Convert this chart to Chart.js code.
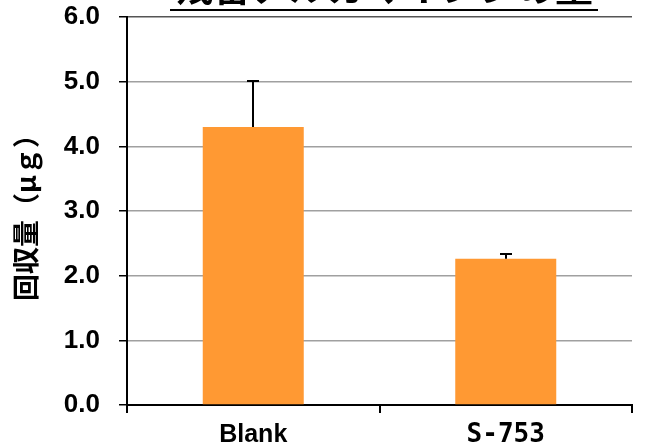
<!DOCTYPE html>
<html>
<head>
<meta charset="utf-8">
<script src="https://cdn.jsdelivr.net/npm/chart.js@4"></script>
<style>
  html, body { margin: 0; padding: 0; background: #fff; }
</style>
</head>
<body>
<canvas id="chart" width="660" height="446"></canvas>
<script>
const categories = ["Blank", "S-753"];
const values = [4.30, 2.26];
const errors = [0.71, 0.07];
const yTicks = [0, 1, 2, 3, 4, 5, 6];
const chartTitle = "残留アルカマイシンの量";
const yTitle = "回収量（μｇ）";

// title is cut off at the top of the picture, only its lower edge shows
const clippedTitle = {
  id: "clippedTitle",
  afterDraw(chart) {
    const ctx = chart.ctx;
    ctx.save();
    ctx.font = "bold 38px 'Noto Sans CJK JP'";
    ctx.fillStyle = "#000";
    ctx.textAlign = "center";
    ctx.textBaseline = "ideographic";
    ctx.fillText(chartTitle, 384, 6);
    ctx.fillRect(170, 9, 428, 2);
    ctx.restore();
  }
};

const errorBars = {
  id: "errorBars",
  afterDatasetsDraw(chart) {
    const ctx = chart.ctx;
    const y = chart.scales.y;
    const meta = chart.getDatasetMeta(0);
    ctx.save();
    ctx.strokeStyle = "#000";
    ctx.lineWidth = 2;
    meta.data.forEach((bar, i) => {
      const top = Math.round(y.getPixelForValue(values[i] + errors[i]));
      const x = Math.round(bar.x);
      ctx.beginPath();
      ctx.moveTo(x, bar.y);
      ctx.lineTo(x, top);
      ctx.moveTo(x - 6, top);
      ctx.lineTo(x + 6, top);
      ctx.stroke();
    });
    ctx.restore();
  }
};

new Chart(document.getElementById("chart"), {
  type: "bar",
  data: {
    labels: categories,
    datasets: [{
      data: values,
      backgroundColor: "#ff9933",
      borderWidth: 0,
      barPercentage: 0.4,
      categoryPercentage: 1.0
    }]
  },
  options: {
    responsive: false,
    animation: false,
    devicePixelRatio: 1,
    layout: { padding: { top: 0, right: 28, left: 0, bottom: 0 } },
    plugins: { legend: { display: false }, tooltip: { enabled: false } },
    scales: {
      x: {
        afterFit: s => { s.height = 41; },
        grid: { offset: true, drawOnChartArea: false, tickLength: 8, color: "#000", tickColor: "#000", lineWidth: 2 },
        border: { color: "#000", width: 2 },
        ticks: {
          color: "#000",
          padding: 7,
          font: c => c.index === 0
            ? { family: "'Liberation Sans', Arial", size: 25, weight: "bold" }
            : { family: "'DejaVu Sans Mono'", size: 26, weight: "bold" }
        }
      },
      y: {
        min: 0,
        max: 6,
        afterFit: s => { s.width = 127; s.paddingTop = 17; s.paddingBottom = 0; },
        afterBuildTicks: s => { s.ticks = yTicks.map(v => ({ value: v })); },
        grid: {
          tickLength: 8,
          tickColor: "#000",
          color: c => c.tick.value === 0 ? "rgba(0,0,0,0)" : (c.tick.value === 6 ? "#555" : "#a0a0a0"),
          lineWidth: 1.5
        },
        border: { color: "#000", width: 2 },
        ticks: {
          color: "#000",
          padding: 19,
          font: { family: "'Liberation Sans', Arial", size: 26, weight: "bold" },
          callback: v => v.toFixed(1)
        },
        title: {
          display: true,
          text: yTitle,
          color: "#000",
          font: { family: "'Noto Sans CJK JP'", size: 27, weight: "bold" },
          padding: { top: 10, bottom: 0 }
        }
      }
    }
  },
  plugins: [clippedTitle, errorBars]
});
</script>
</body>
</html>
